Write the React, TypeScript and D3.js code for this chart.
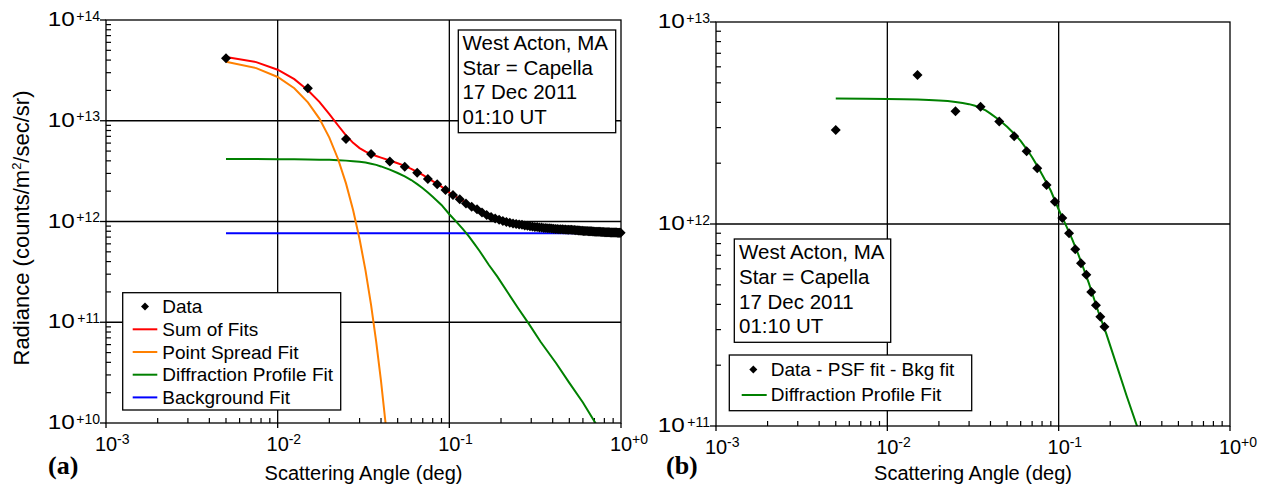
import React from "react";
import * as d3 from "d3";

const FONT = '"Liberation Sans", Arial, Helvetica, sans-serif';

// ---------- Panel (a): measured radiance vs scattering angle ----------
const dataAngle = [
  0.005, 0.015, 0.025, 0.035, 0.045, 0.055, 0.065, 0.075, 0.085, 0.095,
  0.105, 0.115, 0.125, 0.135, 0.145, 0.155, 0.165, 0.175, 0.185, 0.195,
  0.205, 0.215, 0.225, 0.235, 0.245, 0.255, 0.265, 0.275, 0.285, 0.295,
  0.305, 0.315, 0.325, 0.335, 0.345, 0.355, 0.365, 0.375, 0.385, 0.395,
  0.405, 0.415, 0.425, 0.435, 0.445, 0.455, 0.465, 0.475, 0.485, 0.495,
  0.505, 0.515, 0.525, 0.535, 0.545, 0.555, 0.565, 0.575, 0.585, 0.595,
  0.605, 0.615, 0.625, 0.635, 0.645, 0.655, 0.665, 0.675, 0.685, 0.695,
  0.705, 0.715, 0.725, 0.735, 0.745, 0.755, 0.765, 0.775, 0.785, 0.795,
  0.805, 0.815, 0.825, 0.835, 0.845, 0.855, 0.865, 0.875, 0.885, 0.895,
  0.905, 0.915, 0.925, 0.935, 0.945, 0.955, 0.965, 0.975, 0.985, 0.995,
];
const dataRadiance = [
  4.17e13, 2.1e13, 6.6e12, 4.68e12, 3.95e12, 3.5e12, 3.05e12, 2.64e12, 2.34e12, 2.05e12,
  1.83e12, 1.66e12, 1.51e12, 1.4e12, 1.32e12, 1.23e12, 1.16e12, 1.11e12, 1.07e12, 1.04e12,
  1.01e12, 9.9e11, 9.72e11, 9.55e11, 9.46e11, 9.33e11, 9.26e11, 9.14e11, 9.06e11, 8.96e11,
  8.92e11, 8.84e11, 8.81e11, 8.74e11, 8.72e11, 8.64e11, 8.62e11, 8.56e11, 8.55e11, 8.5e11,
  8.49e11, 8.44e11, 8.44e11, 8.4e11, 8.4e11, 8.36e11, 8.35e11, 8.33e11, 8.3e11, 8.3e11,
  8.26e11, 8.26e11, 8.22e11, 8.22e11, 8.18e11, 8.18e11, 8.14e11, 8.14e11, 8.11e11, 8.1e11,
  8.07e11, 8.07e11, 8.04e11, 8.04e11, 8.01e11, 8.01e11, 7.98e11, 7.98e11, 7.96e11, 7.95e11,
  7.93e11, 7.93e11, 7.91e11, 7.91e11, 7.89e11, 7.89e11, 7.87e11, 7.87e11, 7.85e11, 7.85e11,
  7.83e11, 7.84e11, 7.82e11, 7.82e11, 7.8e11, 7.81e11, 7.79e11, 7.79e11, 7.78e11, 7.78e11,
  7.77e11, 7.77e11, 7.76e11, 7.76e11, 7.76e11, 7.75e11, 7.75e11, 7.75e11, 7.75e11, 7.75e11,
];

const sumAngle = [
  0.005, 0.0075, 0.01, 0.0125, 0.015, 0.0175, 0.02, 0.0225, 0.025, 0.0275,
  0.03, 0.0325, 0.035, 0.0375, 0.04, 0.045, 0.05, 0.055, 0.06, 0.065,
  0.07, 0.075, 0.08, 0.085, 0.09, 0.1, 0.11, 0.12, 0.13, 0.14,
  0.15, 0.17, 0.19, 0.22, 0.25, 0.29, 0.34, 0.42, 0.5, 0.6,
  0.72, 0.85, 1.0,
];
const sumRadiance = [
  4.3e13, 3.82e13, 3.21e13, 2.59e13, 2.01e13, 1.54e13, 1.165e13, 8.97e12, 7.17e12, 6.03e12,
  5.35e12, 4.94e12, 4.66e12, 4.47e12, 4.31e12, 4.03e12, 3.79e12, 3.56e12, 3.33e12, 3.1e12,
  2.9e12, 2.7e12, 2.52e12, 2.36e12, 2.22e12, 1.94e12, 1.75e12, 1.6e12, 1.47e12, 1.36e12,
  1.27e12, 1.13e12, 1.05e12, 9.55e11, 9.04e11, 8.61e11, 8.28e11, 8.03e11, 7.89e11, 7.8e11,
  7.74e11, 7.7e11, 7.68e11,
];

const psfAngle = [
  0.005, 0.0075, 0.01, 0.0125, 0.015, 0.0175, 0.02, 0.0225, 0.025, 0.0275,
  0.03, 0.0325, 0.035, 0.0375, 0.04, 0.0425, 0.045,
];
const psfRadiance = [
  3.85e13, 3.33e13, 2.72e13, 2.1e13, 1.52e13, 1.05e13, 6.8e12, 4.15e12, 2.39e12, 1.3e12,
  6.7e11, 3.25e11, 1.49e11, 6.4e10, 2.6e10, 1.0e10, 3.7e9,
];

const diffAngle = [
  0.005, 0.0075, 0.01, 0.0125, 0.015, 0.0175, 0.02, 0.0225, 0.025, 0.0275,
  0.03, 0.0325, 0.035, 0.0375, 0.04, 0.045, 0.05, 0.055, 0.06, 0.065,
  0.07, 0.075, 0.08, 0.085, 0.09, 0.1, 0.11, 0.12, 0.13, 0.14,
  0.15, 0.17, 0.19, 0.22, 0.25, 0.29, 0.34, 0.42, 0.5, 0.6,
  0.72,
];
const diffRadiance = [
  4.18e12, 4.17e12, 4.16e12, 4.15e12, 4.13e12, 4.11e12, 4.09e12, 4.06e12, 4.02e12, 3.97e12,
  3.92e12, 3.85e12, 3.75e12, 3.65e12, 3.52e12, 3.27e12, 3.03e12, 2.8e12, 2.58e12, 2.35e12,
  2.14e12, 1.94e12, 1.76e12, 1.6e12, 1.46e12, 1.18e12, 9.9e11, 8.4e11, 7.1e11, 6.0e11,
  5.1e11, 3.7e11, 2.85e11, 1.95e11, 1.4e11, 9.7e10, 6.4e10, 3.9e10, 2.5e10, 1.6e10,
  9.6e9,
];

const bkgAngle = [0.005, 1.0];
const bkgRadiance = [7.64e11, 7.64e11];

// ---------- Panel (b): data - PSF fit - background fit ----------
const residAngle = [
  0.005, 0.015, 0.025, 0.035, 0.045, 0.055, 0.065, 0.075, 0.085, 0.095,
  0.105, 0.115, 0.125, 0.135, 0.145, 0.155, 0.165, 0.175, 0.185,
];
const residRadiance = [
  2.92e12, 5.47e12, 3.62e12, 3.81e12, 3.22e12, 2.72e12, 2.29e12, 1.89e12, 1.56e12, 1.29e12,
  1.07e12, 9.0e11, 7.5e11, 6.39e11, 5.6e11, 4.6e11, 3.96e11, 3.47e11, 3.1e11,
];

const infoLines = ["West Acton, MA", "Star = Capella", "17 Dec 2011", "01:10 UT"];
const xDomain = [1e-3, 1];
const leftYDomain = [1e10, 1e14];
const rightYDomain = [1e11, 1e13];

const RED = "#ff0000";
const ORANGE = "#ff8000";
const GREEN = "#008000";
const BLUE = "#0000ff";

type Box = { l: number; t: number; r: number; b: number };
type LineSeries = { xs: number[]; ys: number[]; color: string };

const zip = (xs: number[], ys: number[]) => xs.map((x, i) => [x, ys[i]] as [number, number]);

const diamond = (cx: number, cy: number, r = 5) =>
  `M${cx},${cy - r}L${cx + r},${cy}L${cx},${cy + r}L${cx - r},${cy}Z`;

const isDecade = (v: number) => Math.abs(Math.log10(v) - Math.round(Math.log10(v))) < 1e-6;
const expLabel = (v: number) => {
  const e = Math.round(Math.log10(v));
  return (e >= 0 ? "+" : "-") + Math.abs(e);
};

function Panel({
  id,
  box,
  yDomain,
  lines,
  points,
}: {
  id: string;
  box: Box;
  yDomain: number[];
  lines: LineSeries[];
  points: { xs: number[]; ys: number[] };
}) {
  const x = d3.scaleLog().domain(xDomain).range([box.l, box.r]);
  const y = d3.scaleLog().domain(yDomain).range([box.b, box.t]);
  const xTicks = x.ticks();
  const yTicks = y.ticks();
  const xMajor = xTicks.filter(isDecade);
  const yMajor = yTicks.filter(isDecade);
  const xMinor = xTicks.filter((v) => !isDecade(v));
  const yMinor = yTicks.filter((v) => !isDecade(v));
  const line = d3
    .line<[number, number]>()
    .x((d) => x(d[0]))
    .y((d) => y(d[1]));
  const sw = 1.3;
  return (
    <g>
      <defs>
        <clipPath id={id}>
          <rect x={box.l} y={box.t} width={box.r - box.l} height={box.b - box.t} />
        </clipPath>
      </defs>
      {/* grid */}
      {xMajor
        .filter((v) => v > xDomain[0] && v < xDomain[1])
        .map((v) => (
          <line key={"gx" + v} x1={x(v)} x2={x(v)} y1={box.t} y2={box.b} stroke="#000" strokeWidth={sw} />
        ))}
      {yMajor
        .filter((v) => v > yDomain[0] && v < yDomain[1])
        .map((v) => (
          <line key={"gy" + v} x1={box.l} x2={box.r} y1={y(v)} y2={y(v)} stroke="#000" strokeWidth={sw} />
        ))}
      {/* minor ticks (inside) */}
      {xMinor.map((v) => (
        <line key={"mx" + v} x1={x(v)} x2={x(v)} y1={box.b} y2={box.b - 5} stroke="#000" strokeWidth={1.2} />
      ))}
      {yMinor.map((v) => (
        <line key={"my" + v} x1={box.l} x2={box.l + 5} y1={y(v)} y2={y(v)} stroke="#000" strokeWidth={1.2} />
      ))}
      {/* major ticks (outside) */}
      {xMajor.map((v) => (
        <line key={"Mx" + v} x1={x(v)} x2={x(v)} y1={box.b} y2={box.b + 5} stroke="#000" strokeWidth={sw} />
      ))}
      {yMajor.map((v) => (
        <line key={"My" + v} x1={box.l - 6} x2={box.l} y1={y(v)} y2={y(v)} stroke="#000" strokeWidth={sw} />
      ))}
      {/* tick labels */}
      {xMajor.map((v) => (
        <g key={"lx" + v} fontFamily={FONT} fill="#000">
          <text x={x(v)} y={box.b + 28} fontSize={20} textAnchor="middle">
            10
          </text>
          <text x={x(v) + 11} y={box.b + 21} fontSize={14}>
            {expLabel(v)}
          </text>
        </g>
      ))}
      {yMajor.map((v) => {
        const sup = expLabel(v);
        const supW = 14 * (0.584 + 0.556 * (sup.length - 1));
        const right = box.l - 6;
        const tenW = 27;
        return (
          <g key={"ly" + v} fontFamily={FONT} fill="#000">
            <text
              x={right - supW - 1.5 - tenW}
              y={y(v) + 6}
              fontSize={20}
              textLength={tenW}
              lengthAdjust="spacingAndGlyphs"
            >
              10
            </text>
            <text x={right} y={y(v) + 0.5} fontSize={14} textAnchor="end">
              {sup}
            </text>
          </g>
        );
      })}
      {/* series */}
      <g clipPath={`url(#${id})`}>
        {lines.map((s, i) => (
          <path key={"s" + i} d={line(zip(s.xs, s.ys)) || ""} fill="none" stroke={s.color} strokeWidth={2} />
        ))}
      </g>
      {/* frame */}
      <rect x={box.l} y={box.t} width={box.r - box.l} height={box.b - box.t} fill="none" stroke="#000" strokeWidth={sw} />
      {zip(points.xs, points.ys).map((d, i) => (
        <path key={"p" + i} d={diamond(x(d[0]), y(d[1]))} fill="#000" />
      ))}
    </g>
  );
}

function InfoBox({ x, y, w, h, tx, ty }: { x: number; y: number; w: number; h: number; tx: number; ty: number }) {
  return (
    <g>
      <rect x={x} y={y} width={w} height={h} fill="#fff" stroke="#000" strokeWidth={1.3} />
      {infoLines.map((s, i) => (
        <text key={s} x={tx} y={ty + i * 24.6} fontSize={20.5} fontFamily={FONT} fill="#000">
          {s}
        </text>
      ))}
    </g>
  );
}

export default function App() {
  const leftBox: Box = { l: 106, t: 20, r: 621, b: 423 };
  const rightBox: Box = { l: 716, t: 22, r: 1230, b: 426 };

  const leftLegend = [
    { label: "Sum of Fits", color: RED },
    { label: "Point Spread Fit", color: ORANGE },
    { label: "Diffraction Profile Fit", color: GREEN },
    { label: "Background Fit", color: BLUE },
  ];

  return (
    <svg
      width={1263}
      height={485}
      viewBox="0 0 1263 485"
      style={{ position: "absolute", left: 0, top: 0, display: "block", background: "#fff" }}
    >
      <rect x={0} y={0} width={1263} height={485} fill="#fff" />
      <Panel
        id="clipA"
        box={leftBox}
        yDomain={leftYDomain}
        lines={[
          { xs: bkgAngle, ys: bkgRadiance, color: BLUE },
          { xs: diffAngle, ys: diffRadiance, color: GREEN },
          { xs: psfAngle, ys: psfRadiance, color: ORANGE },
          { xs: sumAngle, ys: sumRadiance, color: RED },
        ]}
        points={{ xs: dataAngle, ys: dataRadiance }}
      />
      <Panel
        id="clipB"
        box={rightBox}
        yDomain={rightYDomain}
        lines={[{ xs: diffAngle, ys: diffRadiance, color: GREEN }]}
        points={{ xs: residAngle, ys: residRadiance }}
      />

      {/* info boxes */}
      <InfoBox x={458.3} y={30} w={157.4} h={102.7} tx={462.5} ty={50} />
      <InfoBox x={734.3} y={239} w={156.4} h={103.3} tx={739} ty={259.3} />

      {/* left legend */}
      <g fontFamily={FONT} fontSize={19} fill="#000">
        <rect x={122.7} y={292.7} width={218} height={117.3} fill="#fff" stroke="#000" strokeWidth={1.3} />
        <path d={diamond(145, 306.5, 4)} fill="#000" />
        <text x={162.3} y={313.3}>Data</text>
        {leftLegend.map((e, i) => (
          <g key={e.label}>
            <line x1={132.7} x2={157.3} y1={329.3 + i * 22.7} y2={329.3 + i * 22.7} stroke={e.color} strokeWidth={2} />
            <text x={162.3} y={336 + i * 22.7}>
              {e.label}
            </text>
          </g>
        ))}
      </g>

      {/* right legend */}
      <g fontFamily={FONT} fontSize={19} fill="#000">
        <rect x={729.3} y={355} width={242.4} height={55.7} fill="#fff" stroke="#000" strokeWidth={1.3} />
        <path d={diamond(753.3, 369.5, 4)} fill="#000" />
        <text x={770.7} y={376}>Data - PSF fit - Bkg fit</text>
        <line x1={741.7} x2={766.7} y1={395} y2={395} stroke={GREEN} strokeWidth={2} />
        <text x={770.7} y={400.7}>Diffraction Profile Fit</text>
      </g>

      {/* axis titles */}
      <text
        transform="translate(28.5,228) rotate(-90)"
        textAnchor="middle"
        fontFamily={FONT}
        fontSize={22}
        fill="#000"
      >
        Radiance (counts/m
        <tspan fontSize={13} dy={-8}>
          2
        </tspan>
        <tspan dy={8}>/sec/sr)</tspan>
      </text>
      <text x={363.5} y={480} textAnchor="middle" fontFamily={FONT} fontSize={20} fill="#000">
        Scattering Angle (deg)
      </text>
      <text x={973} y={480} textAnchor="middle" fontFamily={FONT} fontSize={20} fill="#000">
        Scattering Angle (deg)
      </text>

      {/* panel labels */}
      <text x={48} y={474} fontFamily={'"Liberation Serif", "Times New Roman", serif'} fontWeight="bold" fontSize={26} fill="#000">
        (a)
      </text>
      <text x={666} y={474} fontFamily={'"Liberation Serif", "Times New Roman", serif'} fontWeight="bold" fontSize={26} fill="#000">
        (b)
      </text>
    </svg>
  );
}
